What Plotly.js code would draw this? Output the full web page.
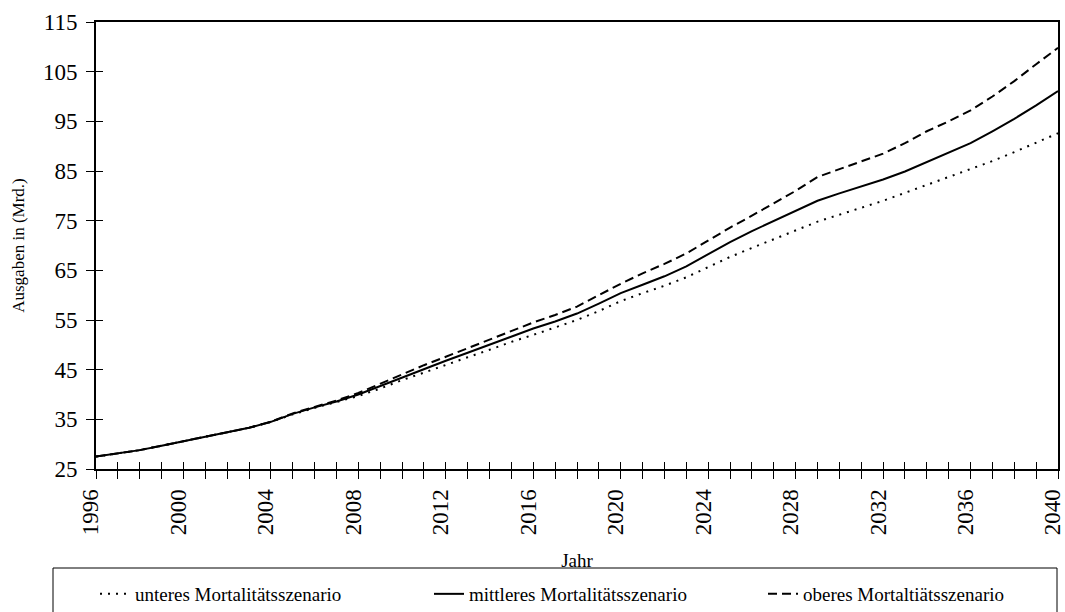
<!DOCTYPE html>
<html>
<head>
<meta charset="utf-8">
<script src="https://cdn.plot.ly/plotly-3.0.1.min.js"></script>
<style>
  html, body { margin: 0; padding: 0; background: #fff; }
  #chart { width: 1065px; height: 612px; }
</style>
</head>
<body>
<div id="chart"></div>
<script>
const years = [1996,1997,1998,1999,2000,2001,2002,2003,2004,2005,2006,2007,2008,2009,2010,
  2011,2012,2013,2014,2015,2016,2017,2018,2019,2020,2021,2022,2023,2024,2025,2026,2027,2028,
  2029,2030,2031,2032,2033,2034,2035,2036,2037,2038,2039,2040];

const unteres = [27.5,28.1,28.8,29.7,30.6,31.6,32.4,33.3,34.5,36.0,37.3,38.5,39.7,41.2,42.9,
  44.4,46.0,47.5,49.0,50.6,52.0,53.5,55.0,56.8,58.8,60.4,61.9,63.6,65.7,67.7,69.5,71.3,73.1,
  74.8,76.2,77.6,79.0,80.6,82.2,83.7,85.4,87.0,88.8,90.7,92.6];

const mittleres = [27.5,28.1,28.8,29.7,30.6,31.6,32.4,33.3,34.5,36.1,37.4,38.6,40.0,41.7,43.5,
  45.2,46.8,48.4,50.0,51.7,53.3,54.7,56.3,58.3,60.4,62.1,63.8,65.8,68.3,70.7,72.9,74.9,76.9,
  79.0,80.5,81.9,83.3,84.9,86.8,88.6,90.6,93.0,95.5,98.2,101.1];

const oberes = [27.5,28.1,28.8,29.7,30.6,31.6,32.4,33.3,34.5,36.2,37.5,38.8,40.3,42.2,44.1,
  45.9,47.6,49.3,51.0,52.8,54.5,56.0,57.7,60.0,62.3,64.4,66.3,68.4,71.0,73.6,76.0,78.5,81.0,
  83.8,85.4,86.9,88.5,90.6,93.0,95.0,97.2,100.0,103.1,106.5,109.8];

const xTickVals = [1996,2000,2004,2008,2012,2016,2020,2024,2028,2032,2036,2040];
const seriesNames = ['unteres Mortalitätsszenario', 'mittleres Mortalitätsszenario', 'oberes Mortaltiätsszenario'];
const yTitle = 'Ausgaben in (Mrd.)';
const xTitle = 'Jahr';

const FONT = 'Liberation Serif, Times New Roman, serif';

const traces = [
  { x: years, y: unteres, name: seriesNames[0], mode: 'lines',
    line: { color: '#000', width: 2, dash: '2px,6px' }, hoverinfo: 'skip' },
  { x: years, y: mittleres, name: seriesNames[1], mode: 'lines',
    line: { color: '#000', width: 2 }, hoverinfo: 'skip' },
  { x: years, y: oberes, name: seriesNames[2], mode: 'lines',
    line: { color: '#000', width: 2, dash: '9px,5px' }, hoverinfo: 'skip' },
  { x: years, y: mittleres, xaxis: 'x2', yaxis: 'y2', mode: 'lines', showlegend: false,
    line: { color: 'rgba(0,0,0,0)', width: 0 }, hoverinfo: 'skip' }
];

// plot area: x 96..1058, y 22..469
const PW = 962, PH = 447;
const px = v => (v - 96) / PW;
const py = v => (469 - v) / PH;

const layout = {
  width: 1065, height: 612,
  margin: { l: 96, r: 7, t: 22, b: 143, pad: 0, autoexpand: false },
  paper_bgcolor: '#fff', plot_bgcolor: '#fff',
  font: { family: FONT, color: '#000', size: 19 },
  showlegend: true,
  xaxis: {
    range: [1996, 2040], tickmode: 'array', tickvals: xTickVals,
    showgrid: false, zeroline: false, automargin: false,
    showline: true, linecolor: '#000', linewidth: 2, mirror: true,
    ticks: 'outside', ticklen: 8, tickwidth: 1, tickcolor: '#000',
    minor: { dtick: 1, tick0: 1996, ticks: 'outside', ticklen: 8, tickwidth: 1, tickcolor: '#000', showgrid: false },
    tickangle: -90, ticklabelstandoff: 1, ticklabelshift: -5, ticklabeloverflow: 'allow',
    tickfont: { family: FONT, size: 23, color: '#000' },
    title: { text: xTitle, font: { family: FONT, size: 19, color: '#000' }, standoff: 19 }
  },
  yaxis: {
    range: [25, 115], tick0: 25, dtick: 10,
    showgrid: false, zeroline: false, automargin: false,
    showline: true, linecolor: '#000', linewidth: 2, mirror: true,
    ticks: 'outside', ticklen: 8, tickwidth: 1, tickcolor: '#000',
    ticklabelstandoff: 4,
    tickfont: { family: FONT, size: 23, color: '#000' },
    title: { text: yTitle, font: { family: FONT, size: 17, color: '#000' }, standoff: 14 }
  },
  xaxis2: {
    overlaying: 'x', anchor: 'y2', side: 'bottom', range: [1996, 2040],
    tick0: 1996, dtick: 1, ticks: 'inside', ticklen: 7, tickwidth: 1, tickcolor: '#000',
    showticklabels: false, showgrid: false, zeroline: false, showline: false
  },
  yaxis2: {
    overlaying: 'y', anchor: 'x2', side: 'left', range: [25, 115],
    tick0: 25, dtick: 10, ticks: 'inside', ticklen: 7, tickwidth: 1, tickcolor: '#000',
    showticklabels: false, showgrid: false, zeroline: false, showline: false
  },
  shapes: [
    { type: 'rect', xref: 'paper', yref: 'paper',
      x0: px(53), x1: px(1057), y0: py(640), y1: py(568),
      line: { color: '#000', width: 1 }, fillcolor: 'rgba(0,0,0,0)' }
  ],
  legend: {
    orientation: 'h', x: px(95), xanchor: 'left', y: py(575), yanchor: 'top',
    borderwidth: 0, bgcolor: 'rgba(0,0,0,0)',
    entrywidth: 289, entrywidthmode: 'pixels',
    font: { family: FONT, size: 19, color: '#000' },
    traceorder: 'normal'
  }
};

Plotly.newPlot('chart', traces, layout, { displayModeBar: false, staticPlot: true });
</script>
</body>
</html>
